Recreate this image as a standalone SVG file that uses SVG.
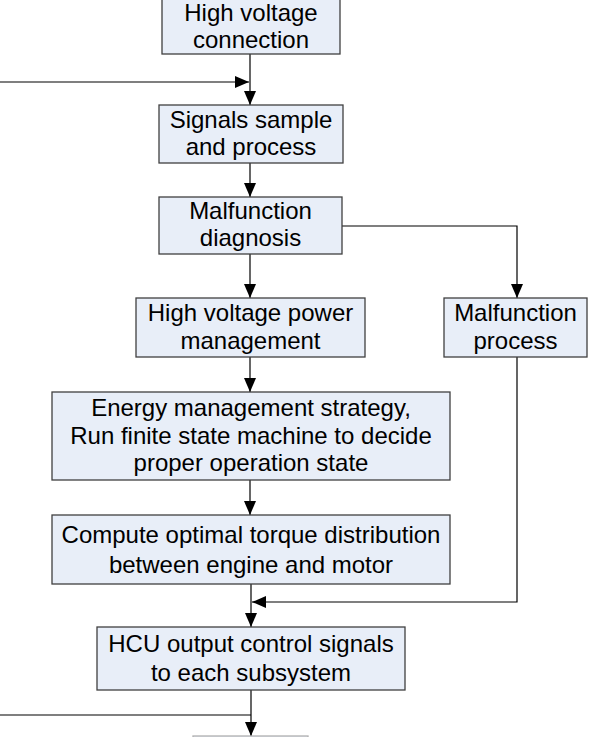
<svg xmlns="http://www.w3.org/2000/svg" width="589" height="737" viewBox="0 0 589 737">
<style>
.box{fill:#e8eef8;stroke:#404040;stroke-width:1.3}
.t{font-family:"Liberation Sans",Arial,sans-serif;font-size:24px;fill:#000;text-anchor:middle}
.c{fill:none;stroke:#000;stroke-width:1.2}
</style>
<defs>
<marker id="ah" markerUnits="userSpaceOnUse" markerWidth="14" markerHeight="12" refX="14" refY="6" orient="auto">
<path d="M0,0 L14,6 L0,12 z" fill="#000"/>
</marker>
</defs>
<rect width="589" height="737" fill="#fff"/>
<g id="connectors">
<line class="c" x1="250" y1="54" x2="250" y2="105" marker-end="url(#ah)"/>
<line class="c" x1="0" y1="82" x2="249" y2="82" marker-end="url(#ah)"/>
<line class="c" x1="250" y1="163" x2="250" y2="197" marker-end="url(#ah)"/>
<line class="c" x1="250" y1="254" x2="250" y2="298" marker-end="url(#ah)"/>
<polyline class="c" points="342,226 517,226 517,298" marker-end="url(#ah)"/>
<line class="c" x1="250" y1="357" x2="250" y2="392" marker-end="url(#ah)"/>
<line class="c" x1="250" y1="480" x2="250" y2="515" marker-end="url(#ah)"/>
<line class="c" x1="251" y1="584" x2="251" y2="627" marker-end="url(#ah)"/>
<polyline class="c" points="517,357 517,602 252,602" marker-end="url(#ah)"/>
<line class="c" x1="251" y1="690" x2="251" y2="736" marker-end="url(#ah)"/>
<line class="c" x1="0" y1="715" x2="251" y2="715"/>
</g>
<g id="n1"><rect class="box" x="162" y="-1" width="178" height="55"/>
<text class="t" x="251" y="21">High voltage</text><text class="t" x="251" y="48">connection</text></g>
<g id="n2"><rect class="box" x="159" y="105" width="184" height="58"/>
<text class="t" x="251" y="128">Signals sample</text><text class="t" x="251" y="155">and process</text></g>
<g id="n3"><rect class="box" x="159" y="197" width="183" height="57"/>
<text class="t" x="250.5" y="219">Malfunction</text><text class="t" x="250.5" y="246">diagnosis</text></g>
<g id="n4"><rect class="box" x="136" y="298" width="229" height="59"/>
<text class="t" x="250.5" y="321">High voltage power</text><text class="t" x="250.5" y="349">management</text></g>
<g id="n5"><rect class="box" x="444" y="298" width="143" height="59"/>
<text class="t" x="515.5" y="321">Malfunction</text><text class="t" x="515.5" y="349">process</text></g>
<g id="n6"><rect class="box" x="52" y="392" width="398" height="88"/>
<text class="t" x="251" y="416">Energy management strategy,</text>
<text class="t" x="251" y="444">Run finite state machine to decide</text>
<text class="t" x="251" y="471">proper operation state</text></g>
<g id="n7"><rect class="box" x="52" y="515" width="398" height="69"/>
<text class="t" x="251" y="543">Compute optimal torque distribution</text>
<text class="t" x="251" y="573">between engine and motor</text></g>
<g id="n8"><rect class="box" x="97" y="627" width="308" height="63"/>
<text class="t" x="251" y="652">HCU output control signals</text>
<text class="t" x="251" y="681">to each subsystem</text></g>
<g id="n9"><rect x="193" y="736" width="115" height="20" fill="#e8eef8" stroke="#b0b0b0" stroke-width="1.3"/></g>
</svg>
